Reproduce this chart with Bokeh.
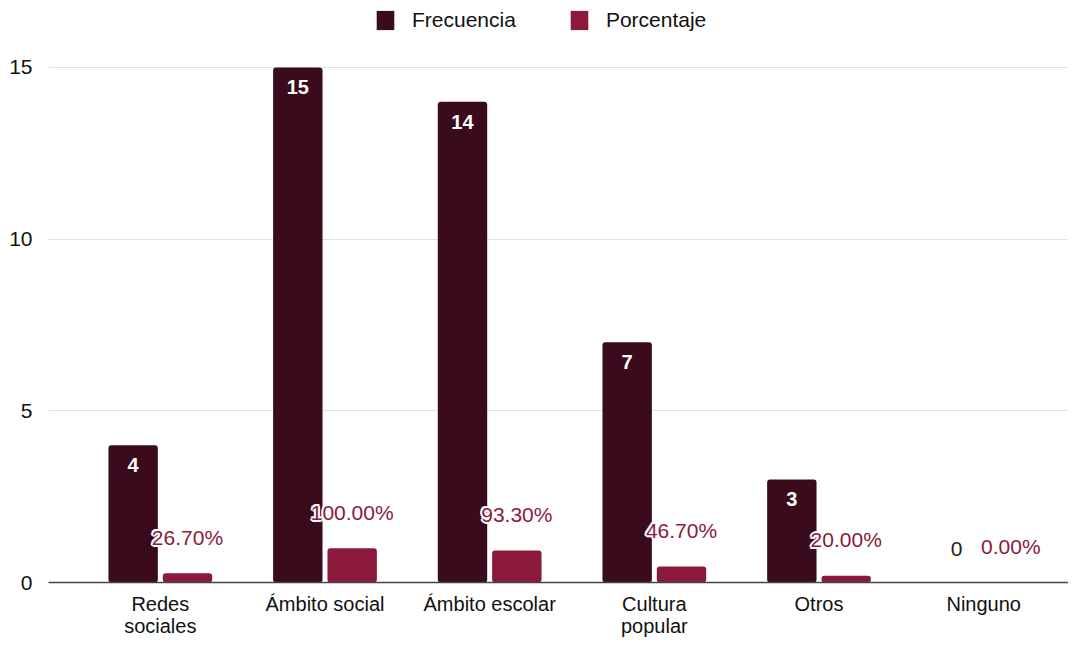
from bokeh.plotting import figure
from bokeh.models import ColumnDataSource, FixedTicker, Legend, LegendItem
from bokeh.core.properties import value
from bokeh.embed import file_html
from bokeh.resources import INLINE

categories = ["Redes\nsociales", "Ámbito social", "Ámbito escolar", "Cultura\npopular", "Otros", "Ninguno"]
frecuencia = [4, 15, 14, 7, 3, 0]
porcentaje = [0.267, 1.0, 0.933, 0.467, 0.2, 0.0]
porcentaje_labels = ["26.70%", "100.00%", "93.30%", "46.70%", "20.00%", "0.00%"]
y_ticks = [0, 5, 10, 15]

FONT = "Liberation Sans"
C_FREC = "#3a0b1c"
C_PORC = "#8b1a3a"
OFF = 0.165
W = 0.3

xs = list(range(len(categories)))
src = ColumnDataSource(dict(
    xf=[x - OFF for x in xs], xp=[x + OFF for x in xs],
    frec=frecuencia, porc=porcentaje,
    frec_lab=[str(v) for v in frecuencia], porc_lab=porcentaje_labels,
))

p = figure(width=1068, height=639, output_backend="svg", toolbar_location=None,
           x_range=(-0.679, 5.515), y_range=(0, 16.95),
           min_border_left=48, min_border_right=0, min_border_top=0, min_border_bottom=40)
p.outline_line_color = None
p.background_fill_color = "white"

rf = p.vbar(x="xf", top="frec", width=W, source=src, fill_color=C_FREC, line_color=None, border_radius=3)
rp = p.vbar(x="xp", top="porc", width=W, source=src, fill_color=C_PORC, line_color=None, border_radius=3)

inside = ColumnDataSource(dict(x=[xs[i] - OFF for i, v in enumerate(frecuencia) if v > 0],
                               y=[v for v in frecuencia if v > 0],
                               t=[str(v) for v in frecuencia if v > 0]))
outside = ColumnDataSource(dict(x=[xs[i] - OFF for i, v in enumerate(frecuencia) if v == 0],
                                y=[v for v in frecuencia if v == 0],
                                t=[str(v) for v in frecuencia if v == 0]))
p.text(x="x", y="y", text="t", source=inside, text_color="white", text_font=value(FONT),
       text_font_size="20px", text_font_style="bold", text_align="center",
       text_baseline="middle", y_offset=20)
p.text(x="x", y="y", text="t", source=outside, text_color="#222222", text_font=value(FONT),
       text_font_size="21px", text_align="center", text_baseline="middle", y_offset=-34)

# white halo behind percentage labels
for dx, dy in [(-2, 0), (2, 0), (0, -2), (0, 2), (-1.5, -1.5), (1.5, 1.5), (-1.5, 1.5), (1.5, -1.5)]:
    p.text(x="xp", y="porc", text="porc_lab", source=src, text_color="white", text_font=value(FONT),
           text_font_size="21px", text_align="center", text_baseline="middle",
           x_offset=dx, y_offset=-36 + dy)
p.text(x="xp", y="porc", text="porc_lab", source=src, text_color=C_PORC, text_font=value(FONT),
       text_font_size="21px", text_align="center", text_baseline="middle", y_offset=-36)

p.xaxis.ticker = FixedTicker(ticks=xs)
p.xaxis.major_label_overrides = {i: c for i, c in enumerate(categories)}
p.xaxis.major_label_text_font = FONT
p.xaxis.major_label_text_font_size = "20px"
p.xaxis.major_label_text_line_height = 1.0
p.xaxis.major_label_text_color = "#111111"
p.xaxis.major_tick_line_color = None
p.xaxis.minor_tick_line_color = None
p.xaxis.axis_line_color = "#444444"
p.xaxis.axis_line_width = 1.5
p.xaxis.major_label_standoff = 4

p.yaxis.ticker = FixedTicker(ticks=y_ticks)
p.yaxis.major_label_text_font = FONT
p.yaxis.major_label_text_font_size = "21px"
p.yaxis.major_label_text_color = "#111111"
p.yaxis.axis_line_color = None
p.yaxis.major_tick_line_color = None
p.yaxis.minor_tick_line_color = None
p.yaxis.major_label_standoff = 10

p.xgrid.grid_line_color = None
p.ygrid.ticker = FixedTicker(ticks=[5, 10, 15])
p.ygrid.grid_line_color = "#d5e6e8"
p.ygrid.grid_line_width = 1.2

legend = Legend(items=[LegendItem(label="Frecuencia", renderers=[rf]),
                       LegendItem(label="Porcentaje", renderers=[rp])],
                orientation="horizontal", location=(326, 550),
                label_text_font=FONT, label_text_font_size="21px", label_text_color="#111111",
                glyph_width=22, glyph_height=24, spacing=52, padding=4, margin=0,
                border_line_color=None, background_fill_alpha=0, label_standoff=16)
p.add_layout(legend)

open("out.html", "w").write(file_html(p, INLINE))
